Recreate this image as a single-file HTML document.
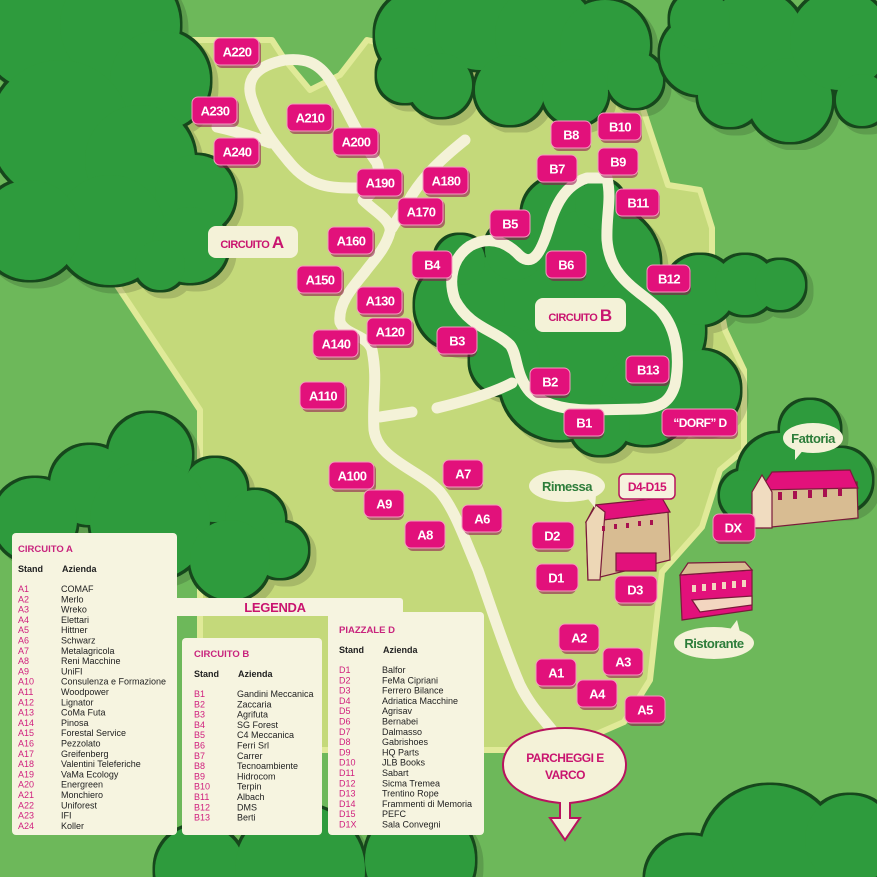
<!DOCTYPE html>
<html><head><meta charset="utf-8"><style>
html,body{margin:0;padding:0;background:#6db85a;overflow:hidden;width:877px;height:877px}
svg{display:block}
.lb rect.s{fill:#8d0d4a;opacity:.55}
.lb rect.m{fill:#e2117b;stroke:#f49ac0;stroke-width:1}
.lb text{fill:#fff;font-family:"Liberation Sans",sans-serif;font-weight:bold;font-size:13px;letter-spacing:-0.6px;text-anchor:middle;dominant-baseline:central}
.lg text{font-family:"Liberation Sans",sans-serif;font-size:9px;fill:#222}
.lg .p{fill:#d0207e}
.lg .h{font-weight:bold;fill:#222}
.lg .t{font-weight:bold;fill:#c8237d;font-size:9.5px}
</style></head><body>
<svg width="877" height="877" viewBox="0 0 877 877" xmlns="http://www.w3.org/2000/svg">
<defs>
<filter id="ol" x="-5%" y="-5%" width="110%" height="110%">
<feMorphology in="SourceAlpha" operator="dilate" radius="2.5" result="d"/>
<feFlood flood-color="#17461a"/>
<feComposite in2="d" operator="in" result="o"/>
<feOffset in="d" dx="6" dy="6" result="sh0"/>
<feFlood flood-color="#000" flood-opacity="0.15"/>
<feComposite in2="sh0" operator="in" result="sh"/>
<feMerge><feMergeNode in="sh"/><feMergeNode in="o"/><feMergeNode in="SourceGraphic"/></feMerge>
</filter>
<clipPath id="cl"><rect width="877" height="877"/></clipPath>
</defs>
<rect width="877" height="877" fill="#6db85a"/>
<polygon points="168,40 272,40 285,60 310,90 340,75 367,40 640,100 668,185 700,190 712,228 712,262 725,330 744,370 744,450 720,470 702,527 662,572 650,680 624,722 560,750 200,750 200,410 180,380 112,278" fill="#c4d97a" stroke="#e0ea98" stroke-width="6" stroke-linejoin="round"/>
<g clip-path="url(#cl)">
<g fill="#2f9b3c" filter="url(#ol)">
<circle cx="40" cy="30" r="60"/><circle cx="120" cy="25" r="60"/><circle cx="160" cy="80" r="50"/><circle cx="60" cy="130" r="70"/><circle cx="140" cy="160" r="55"/><circle cx="195" cy="195" r="40"/><circle cx="110" cy="230" r="55"/><circle cx="190" cy="245" r="38"/><circle cx="30" cy="230" r="50"/><circle cx="160" cy="265" r="25"/>
</g>
<g fill="#2f9b3c" filter="url(#ol)">
<circle cx="420" cy="35" r="45"/><circle cx="480" cy="25" r="45"/><circle cx="545" cy="35" r="50"/><circle cx="605" cy="45" r="45"/><circle cx="635" cy="80" r="28"/><circle cx="440" cy="85" r="32"/><circle cx="510" cy="90" r="35"/><circle cx="575" cy="92" r="33"/><circle cx="405" cy="75" r="28"/>
</g>
<g fill="#2f9b3c" filter="url(#ol)">
<circle cx="700" cy="55" r="40"/><circle cx="755" cy="40" r="50"/><circle cx="790" cy="100" r="42"/><circle cx="730" cy="95" r="32"/><circle cx="840" cy="40" r="50"/><circle cx="862" cy="100" r="26"/><circle cx="700" cy="20" r="30"/>
</g>
<g fill="#2f9b3c" filter="url(#ol)">
<circle cx="560" cy="215" r="38"/><circle cx="600" cy="265" r="60"/><circle cx="645" cy="330" r="60"/><circle cx="520" cy="300" r="55"/><circle cx="460" cy="305" r="45"/><circle cx="560" cy="380" r="60"/><circle cx="645" cy="400" r="45"/><circle cx="600" cy="425" r="30"/><circle cx="700" cy="290" r="35"/><circle cx="745" cy="285" r="30"/><circle cx="780" cy="285" r="25"/><circle cx="460" cy="260" r="25"/><circle cx="515" cy="250" r="30"/><circle cx="600" cy="205" r="25"/><circle cx="505" cy="360" r="35"/><circle cx="700" cy="390" r="40"/>
</g>
<g fill="#2f9b3c" filter="url(#ol)">
<circle cx="150" cy="455" r="42"/><circle cx="90" cy="485" r="40"/><circle cx="35" cy="520" r="42"/><circle cx="215" cy="490" r="32"/><circle cx="255" cy="520" r="30"/><circle cx="280" cy="550" r="28"/><circle cx="150" cy="520" r="60"/><circle cx="230" cy="560" r="40"/>
</g>
<g fill="#2f9b3c" filter="url(#ol)">
<circle cx="200" cy="870" r="45"/><circle cx="300" cy="870" r="65"/><circle cx="420" cy="860" r="55"/>
</g>
<g fill="#2f9b3c" filter="url(#ol)">
<circle cx="770" cy="855" r="70"/><circle cx="850" cy="840" r="45"/><circle cx="690" cy="880" r="45"/>
</g>
<g fill="#2f9b3c" filter="url(#ol)">
<circle cx="810" cy="430" r="30"/><circle cx="780" cy="475" r="42"/><circle cx="840" cy="480" r="32"/><circle cx="745" cy="495" r="25"/>
</g>
</g>
<g fill="none" stroke="#f4f2d8" stroke-width="11" stroke-linecap="round" stroke-linejoin="round">
<path d="M217,127 C240,132 262,140 270,143"/>
<path d="M357,188 C330,188 310,187 290,163 C275,145 262,130 252,100 C245,80 255,66 285,60 C305,58 318,62 330,80 C345,105 360,140 377,163 C383,180 372,195 363,200 C375,212 392,220 390,232 C385,250 372,262 365,272 C350,290 338,305 340,322 C345,335 368,335 372,350 C378,380 372,400 374,430 C378,460 420,470 440,492 C455,510 465,540 478,570 C492,610 505,650 520,685 C530,705 540,715 552,730"/>
<path d="M465,140 C440,160 425,175 412,195 C405,208 398,218 392,228"/>
<path d="M380,417 L412,412"/>
<path d="M437,408 C470,400 495,392 512,383"/>
<path d="M607,178 C612,200 606,215 607,240 C610,280 640,290 660,310 C678,330 680,360 675,385 C670,402 660,408 640,409 L590,410 C560,410 540,402 530,392 C515,375 518,355 510,345 C495,330 470,328 455,300 C448,280 452,258 470,246 C488,236 505,240 520,256 C532,266 540,255 548,230 C555,205 565,185 587,178 Z"/>
</g>
<g stroke="#7a1a3a" stroke-width="1.2">
<polygon points="586,522 668,512 670,560 588,580" fill="#d8bc92"/>
<polygon points="586,522 595,505 662,498 670,512" fill="#e2117b"/>
<polygon points="586,522 596,505 605,512 600,580 588,580" fill="#edd7b6"/>
<rect x="616" y="553" width="40" height="18" fill="#e2117b"/>
<line x1="646" y1="487" x2="646" y2="500" stroke="#e2117b" stroke-width="3"/>
<polygon points="760,490 857,482 858,518 762,528" fill="#d8bc92"/>
<polygon points="760,490 772,472 850,470 858,488" fill="#e2117b"/>
<polygon points="752,492 762,475 772,492 772,528 752,528" fill="#f0dcc0"/>
<polygon points="680,575 752,570 752,610 682,620" fill="#e2117b"/>
<polygon points="680,575 688,563 745,562 752,570" fill="#d8bc92"/>
<polygon points="692,600 752,596 752,605 700,612" fill="#f3d6c0"/>
</g>
<g fill="#a8104f"><rect x="602" y="526" width="3" height="5"/><rect x="614" y="524" width="3" height="5"/><rect x="626" y="523" width="3" height="5"/><rect x="638" y="521" width="3" height="5"/><rect x="650" y="520" width="3" height="5"/>
<rect x="778" y="492" width="4" height="8"/><rect x="793" y="491" width="4" height="8"/><rect x="808" y="490" width="4" height="8"/><rect x="823" y="489" width="4" height="8"/><rect x="838" y="488" width="4" height="8"/>
</g>
<g fill="#f3d6c0"><rect x="692" y="585" width="4" height="7"/><rect x="702" y="584" width="4" height="7"/><rect x="712" y="583" width="4" height="7"/><rect x="722" y="582" width="4" height="7"/><rect x="732" y="581" width="4" height="7"/><rect x="742" y="580" width="4" height="7"/></g>
<g font-family="Liberation Sans,sans-serif" font-weight="bold" text-anchor="middle" letter-spacing="-0.5">
<g fill="#f4f2d8"><ellipse cx="567" cy="486" rx="38" ry="16"/><polygon points="585,495 596,495 595,508"/>
<ellipse cx="813" cy="438" rx="30" ry="15"/><polygon points="795,448 805,448 795,460"/>
<ellipse cx="714" cy="643" rx="40" ry="16"/><polygon points="728,632 740,632 737,620"/></g>
<text x="567" y="491" fill="#2d7d3a" font-size="13">Rimessa</text>
<text x="813" y="443" fill="#2d7d3a" font-size="13">Fattoria</text>
<text x="714" y="648" fill="#2d7d3a" font-size="13">Ristorante</text>
<rect x="619" y="474" width="56" height="25" rx="5" fill="#f6f2de" stroke="#b8135e" stroke-width="1.5"/>
<text x="647" y="491" fill="#d0126f" font-size="12">D4-D15</text>
<rect x="208" y="226" width="90" height="32" rx="8" fill="#f4f2d8"/>
<text x="252" y="248" fill="#c9146f" font-size="11">CIRCUITO <tspan font-size="17">A</tspan></text>
<rect x="535" y="298" width="91" height="34" rx="8" fill="#f4f2d8"/>
<text x="580" y="321" fill="#c9146f" font-size="11">CIRCUITO <tspan font-size="17">B</tspan></text>
<path d="M565,728 C600,728 626,742 626,765 C626,788 600,800 570,803 L570,818 L580,818 L565,840 L550,818 L560,818 L560,803 C530,800 503,788 503,765 C503,742 530,728 565,728 Z" fill="#f4f2d8" stroke="#b8135e" stroke-width="2"/>
<text x="565" y="762" fill="#c9146f" font-size="12">PARCHEGGI E</text>
<text x="565" y="779" fill="#c9146f" font-size="12">VARCO</text>
</g>
<g class="lb">
<g transform="translate(237,52)"><rect class="s" x="-21" y="-12" width="45" height="28" rx="6"/><rect class="m" x="-23" y="-14" width="45" height="27" rx="6"/><text x="0" y="0">A220</text></g>
<g transform="translate(215,111)"><rect class="s" x="-21" y="-12" width="45" height="28" rx="6"/><rect class="m" x="-23" y="-14" width="45" height="27" rx="6"/><text x="0" y="0">A230</text></g>
<g transform="translate(237,152)"><rect class="s" x="-21" y="-12" width="45" height="28" rx="6"/><rect class="m" x="-23" y="-14" width="45" height="27" rx="6"/><text x="0" y="0">A240</text></g>
<g transform="translate(310,118)"><rect class="s" x="-21" y="-12" width="45" height="28" rx="6"/><rect class="m" x="-23" y="-14" width="45" height="27" rx="6"/><text x="0" y="0">A210</text></g>
<g transform="translate(356,142)"><rect class="s" x="-21" y="-12" width="45" height="28" rx="6"/><rect class="m" x="-23" y="-14" width="45" height="27" rx="6"/><text x="0" y="0">A200</text></g>
<g transform="translate(380,183)"><rect class="s" x="-21" y="-12" width="45" height="28" rx="6"/><rect class="m" x="-23" y="-14" width="45" height="27" rx="6"/><text x="0" y="0">A190</text></g>
<g transform="translate(446,181)"><rect class="s" x="-21" y="-12" width="45" height="28" rx="6"/><rect class="m" x="-23" y="-14" width="45" height="27" rx="6"/><text x="0" y="0">A180</text></g>
<g transform="translate(421,212)"><rect class="s" x="-21" y="-12" width="45" height="28" rx="6"/><rect class="m" x="-23" y="-14" width="45" height="27" rx="6"/><text x="0" y="0">A170</text></g>
<g transform="translate(351,241)"><rect class="s" x="-21" y="-12" width="45" height="28" rx="6"/><rect class="m" x="-23" y="-14" width="45" height="27" rx="6"/><text x="0" y="0">A160</text></g>
<g transform="translate(320,280)"><rect class="s" x="-21" y="-12" width="45" height="28" rx="6"/><rect class="m" x="-23" y="-14" width="45" height="27" rx="6"/><text x="0" y="0">A150</text></g>
<g transform="translate(380,301)"><rect class="s" x="-21" y="-12" width="45" height="28" rx="6"/><rect class="m" x="-23" y="-14" width="45" height="27" rx="6"/><text x="0" y="0">A130</text></g>
<g transform="translate(390,332)"><rect class="s" x="-21" y="-12" width="45" height="28" rx="6"/><rect class="m" x="-23" y="-14" width="45" height="27" rx="6"/><text x="0" y="0">A120</text></g>
<g transform="translate(336,344)"><rect class="s" x="-21" y="-12" width="45" height="28" rx="6"/><rect class="m" x="-23" y="-14" width="45" height="27" rx="6"/><text x="0" y="0">A140</text></g>
<g transform="translate(323,396)"><rect class="s" x="-21" y="-12" width="45" height="28" rx="6"/><rect class="m" x="-23" y="-14" width="45" height="27" rx="6"/><text x="0" y="0">A110</text></g>
<g transform="translate(352,476)"><rect class="s" x="-21" y="-12" width="45" height="28" rx="6"/><rect class="m" x="-23" y="-14" width="45" height="27" rx="6"/><text x="0" y="0">A100</text></g>
<g transform="translate(463,474)"><rect class="s" x="-18" y="-12" width="38" height="28" rx="6"/><rect class="m" x="-20" y="-14" width="40" height="27" rx="6"/><text x="0" y="0">A7</text></g>
<g transform="translate(384,504)"><rect class="s" x="-18" y="-12" width="38" height="28" rx="6"/><rect class="m" x="-20" y="-14" width="40" height="27" rx="6"/><text x="0" y="0">A9</text></g>
<g transform="translate(482,519)"><rect class="s" x="-18" y="-12" width="38" height="28" rx="6"/><rect class="m" x="-20" y="-14" width="40" height="27" rx="6"/><text x="0" y="0">A6</text></g>
<g transform="translate(425,535)"><rect class="s" x="-18" y="-12" width="38" height="28" rx="6"/><rect class="m" x="-20" y="-14" width="40" height="27" rx="6"/><text x="0" y="0">A8</text></g>
<g transform="translate(579,638)"><rect class="s" x="-18" y="-12" width="38" height="28" rx="6"/><rect class="m" x="-20" y="-14" width="40" height="27" rx="6"/><text x="0" y="0">A2</text></g>
<g transform="translate(623,662)"><rect class="s" x="-18" y="-12" width="38" height="28" rx="6"/><rect class="m" x="-20" y="-14" width="40" height="27" rx="6"/><text x="0" y="0">A3</text></g>
<g transform="translate(556,673)"><rect class="s" x="-18" y="-12" width="38" height="28" rx="6"/><rect class="m" x="-20" y="-14" width="40" height="27" rx="6"/><text x="0" y="0">A1</text></g>
<g transform="translate(597,694)"><rect class="s" x="-18" y="-12" width="38" height="28" rx="6"/><rect class="m" x="-20" y="-14" width="40" height="27" rx="6"/><text x="0" y="0">A4</text></g>
<g transform="translate(645,710)"><rect class="s" x="-18" y="-12" width="38" height="28" rx="6"/><rect class="m" x="-20" y="-14" width="40" height="27" rx="6"/><text x="0" y="0">A5</text></g>
<g transform="translate(571,135)"><rect class="s" x="-18" y="-12" width="38" height="28" rx="6"/><rect class="m" x="-20" y="-14" width="40" height="27" rx="6"/><text x="0" y="0">B8</text></g>
<g transform="translate(620,127)"><rect class="s" x="-20" y="-12" width="42" height="28" rx="6"/><rect class="m" x="-22" y="-14" width="43" height="27" rx="6"/><text x="0" y="0">B10</text></g>
<g transform="translate(557,169)"><rect class="s" x="-18" y="-12" width="38" height="28" rx="6"/><rect class="m" x="-20" y="-14" width="40" height="27" rx="6"/><text x="0" y="0">B7</text></g>
<g transform="translate(618,162)"><rect class="s" x="-18" y="-12" width="38" height="28" rx="6"/><rect class="m" x="-20" y="-14" width="40" height="27" rx="6"/><text x="0" y="0">B9</text></g>
<g transform="translate(638,203)"><rect class="s" x="-20" y="-12" width="42" height="28" rx="6"/><rect class="m" x="-22" y="-14" width="43" height="27" rx="6"/><text x="0" y="0">B11</text></g>
<g transform="translate(510,224)"><rect class="s" x="-18" y="-12" width="38" height="28" rx="6"/><rect class="m" x="-20" y="-14" width="40" height="27" rx="6"/><text x="0" y="0">B5</text></g>
<g transform="translate(432,265)"><rect class="s" x="-18" y="-12" width="38" height="28" rx="6"/><rect class="m" x="-20" y="-14" width="40" height="27" rx="6"/><text x="0" y="0">B4</text></g>
<g transform="translate(566,265)"><rect class="s" x="-18" y="-12" width="38" height="28" rx="6"/><rect class="m" x="-20" y="-14" width="40" height="27" rx="6"/><text x="0" y="0">B6</text></g>
<g transform="translate(669,279)"><rect class="s" x="-20" y="-12" width="42" height="28" rx="6"/><rect class="m" x="-22" y="-14" width="43" height="27" rx="6"/><text x="0" y="0">B12</text></g>
<g transform="translate(457,341)"><rect class="s" x="-18" y="-12" width="38" height="28" rx="6"/><rect class="m" x="-20" y="-14" width="40" height="27" rx="6"/><text x="0" y="0">B3</text></g>
<g transform="translate(550,382)"><rect class="s" x="-18" y="-12" width="38" height="28" rx="6"/><rect class="m" x="-20" y="-14" width="40" height="27" rx="6"/><text x="0" y="0">B2</text></g>
<g transform="translate(648,370)"><rect class="s" x="-20" y="-12" width="42" height="28" rx="6"/><rect class="m" x="-22" y="-14" width="43" height="27" rx="6"/><text x="0" y="0">B13</text></g>
<g transform="translate(584,423)"><rect class="s" x="-18" y="-12" width="38" height="28" rx="6"/><rect class="m" x="-20" y="-14" width="40" height="27" rx="6"/><text x="0" y="0">B1</text></g>
<g transform="translate(700,423)"><rect class="s" x="-36" y="-12" width="74" height="28" rx="6"/><rect class="m" x="-38" y="-14" width="75" height="27" rx="6"/><text x="0" y="0" style="font-size:12px">“DORF” D</text></g>
<g transform="translate(552,536)"><rect class="s" x="-18" y="-12" width="38" height="28" rx="6"/><rect class="m" x="-20" y="-14" width="42" height="27" rx="6"/><text x="0" y="0">D2</text></g>
<g transform="translate(556,578)"><rect class="s" x="-18" y="-12" width="38" height="28" rx="6"/><rect class="m" x="-20" y="-14" width="42" height="27" rx="6"/><text x="0" y="0">D1</text></g>
<g transform="translate(635,590)"><rect class="s" x="-18" y="-12" width="38" height="28" rx="6"/><rect class="m" x="-20" y="-14" width="42" height="27" rx="6"/><text x="0" y="0">D3</text></g>
<g transform="translate(733,528)"><rect class="s" x="-18" y="-12" width="38" height="28" rx="6"/><rect class="m" x="-20" y="-14" width="42" height="27" rx="6"/><text x="0" y="0">DX</text></g>
</g>
<g class="lg">
<rect x="12" y="533" width="165" height="302" rx="4" fill="#f6f4e0"/>
<rect x="182" y="638" width="140" height="197" rx="4" fill="#f6f4e0"/>
<rect x="328" y="612" width="156" height="223" rx="4" fill="#f6f4e0"/>
<rect x="135" y="598" width="268" height="18" rx="3" fill="#f6f4e0"/>
<text x="275" y="612" text-anchor="middle" style="font-weight:bold;font-size:13px;fill:#c9146f;letter-spacing:-0.3px">LEGENDA</text>
<text class="t" x="18" y="552">CIRCUITO A</text>
<text class="h" x="18" y="572">Stand</text><text class="h" x="62" y="572">Azienda</text>
<g transform="translate(0,592)">
<text class="p" x="18" y="0">A1</text><text x="61" y="0">COMAF</text>
<text class="p" x="18" y="10.3">A2</text><text x="61" y="10.3">Merlo</text>
<text class="p" x="18" y="20.6">A3</text><text x="61" y="20.6">Wreko</text>
<text class="p" x="18" y="30.9">A4</text><text x="61" y="30.9">Elettari</text>
<text class="p" x="18" y="41.2">A5</text><text x="61" y="41.2">Hittner</text>
<text class="p" x="18" y="51.5">A6</text><text x="61" y="51.5">Schwarz</text>
<text class="p" x="18" y="61.8">A7</text><text x="61" y="61.8">Metalagricola</text>
<text class="p" x="18" y="72.1">A8</text><text x="61" y="72.1">Reni Macchine</text>
<text class="p" x="18" y="82.4">A9</text><text x="61" y="82.4">UniFI</text>
<text class="p" x="18" y="92.7">A10</text><text x="61" y="92.7">Consulenza e Formazione</text>
<text class="p" x="18" y="103">A11</text><text x="61" y="103">Woodpower</text>
<text class="p" x="18" y="113.3">A12</text><text x="61" y="113.3">Lignator</text>
<text class="p" x="18" y="123.6">A13</text><text x="61" y="123.6">CoMa Futa</text>
<text class="p" x="18" y="133.9">A14</text><text x="61" y="133.9">Pinosa</text>
<text class="p" x="18" y="144.2">A15</text><text x="61" y="144.2">Forestal Service</text>
<text class="p" x="18" y="154.5">A16</text><text x="61" y="154.5">Pezzolato</text>
<text class="p" x="18" y="164.8">A17</text><text x="61" y="164.8">Greifenberg</text>
<text class="p" x="18" y="175.1">A18</text><text x="61" y="175.1">Valentini Teleferiche</text>
<text class="p" x="18" y="185.4">A19</text><text x="61" y="185.4">VaMa Ecology</text>
<text class="p" x="18" y="195.7">A20</text><text x="61" y="195.7">Energreen</text>
<text class="p" x="18" y="206">A21</text><text x="61" y="206">Monchiero</text>
<text class="p" x="18" y="216.3">A22</text><text x="61" y="216.3">Uniforest</text>
<text class="p" x="18" y="226.6">A23</text><text x="61" y="226.6">IFI</text>
<text class="p" x="18" y="236.9">A24</text><text x="61" y="236.9">Koller</text>
</g>
<text class="t" x="194" y="657">CIRCUITO B</text>
<text class="h" x="194" y="677">Stand</text><text class="h" x="238" y="677">Azienda</text>
<g transform="translate(0,697)">
<text class="p" x="194" y="0">B1</text><text x="237" y="0">Gandini Meccanica</text>
<text class="p" x="194" y="10.3">B2</text><text x="237" y="10.3">Zaccaria</text>
<text class="p" x="194" y="20.6">B3</text><text x="237" y="20.6">Agrifuta</text>
<text class="p" x="194" y="30.9">B4</text><text x="237" y="30.9">SG Forest</text>
<text class="p" x="194" y="41.2">B5</text><text x="237" y="41.2">C4 Meccanica</text>
<text class="p" x="194" y="51.5">B6</text><text x="237" y="51.5">Ferri Srl</text>
<text class="p" x="194" y="61.8">B7</text><text x="237" y="61.8">Carrer</text>
<text class="p" x="194" y="72.1">B8</text><text x="237" y="72.1">Tecnoambiente</text>
<text class="p" x="194" y="82.4">B9</text><text x="237" y="82.4">Hidrocom</text>
<text class="p" x="194" y="92.7">B10</text><text x="237" y="92.7">Terpin</text>
<text class="p" x="194" y="103">B11</text><text x="237" y="103">Albach</text>
<text class="p" x="194" y="113.3">B12</text><text x="237" y="113.3">DMS</text>
<text class="p" x="194" y="123.6">B13</text><text x="237" y="123.6">Berti</text>
</g>
<text class="t" x="339" y="633">PIAZZALE D</text>
<text class="h" x="339" y="653">Stand</text><text class="h" x="383" y="653">Azienda</text>
<g transform="translate(0,673)">
<text class="p" x="339" y="0">D1</text><text x="382" y="0">Balfor</text>
<text class="p" x="339" y="10.3">D2</text><text x="382" y="10.3">FeMa Cipriani</text>
<text class="p" x="339" y="20.6">D3</text><text x="382" y="20.6">Ferrero Bilance</text>
<text class="p" x="339" y="30.9">D4</text><text x="382" y="30.9">Adriatica Macchine</text>
<text class="p" x="339" y="41.2">D5</text><text x="382" y="41.2">Agrisav</text>
<text class="p" x="339" y="51.5">D6</text><text x="382" y="51.5">Bernabei</text>
<text class="p" x="339" y="61.8">D7</text><text x="382" y="61.8">Dalmasso</text>
<text class="p" x="339" y="72.1">D8</text><text x="382" y="72.1">Gabrishoes</text>
<text class="p" x="339" y="82.4">D9</text><text x="382" y="82.4">HQ Parts</text>
<text class="p" x="339" y="92.7">D10</text><text x="382" y="92.7">JLB Books</text>
<text class="p" x="339" y="103">D11</text><text x="382" y="103">Sabart</text>
<text class="p" x="339" y="113.3">D12</text><text x="382" y="113.3">Sicma Tremea</text>
<text class="p" x="339" y="123.6">D13</text><text x="382" y="123.6">Trentino Rope</text>
<text class="p" x="339" y="133.9">D14</text><text x="382" y="133.9">Frammenti di Memoria</text>
<text class="p" x="339" y="144.2">D15</text><text x="382" y="144.2">PEFC</text>
<text class="p" x="339" y="154.5">D1X</text><text x="382" y="154.5">Sala Convegni</text>
</g>
</g>
</svg>
</body></html>
